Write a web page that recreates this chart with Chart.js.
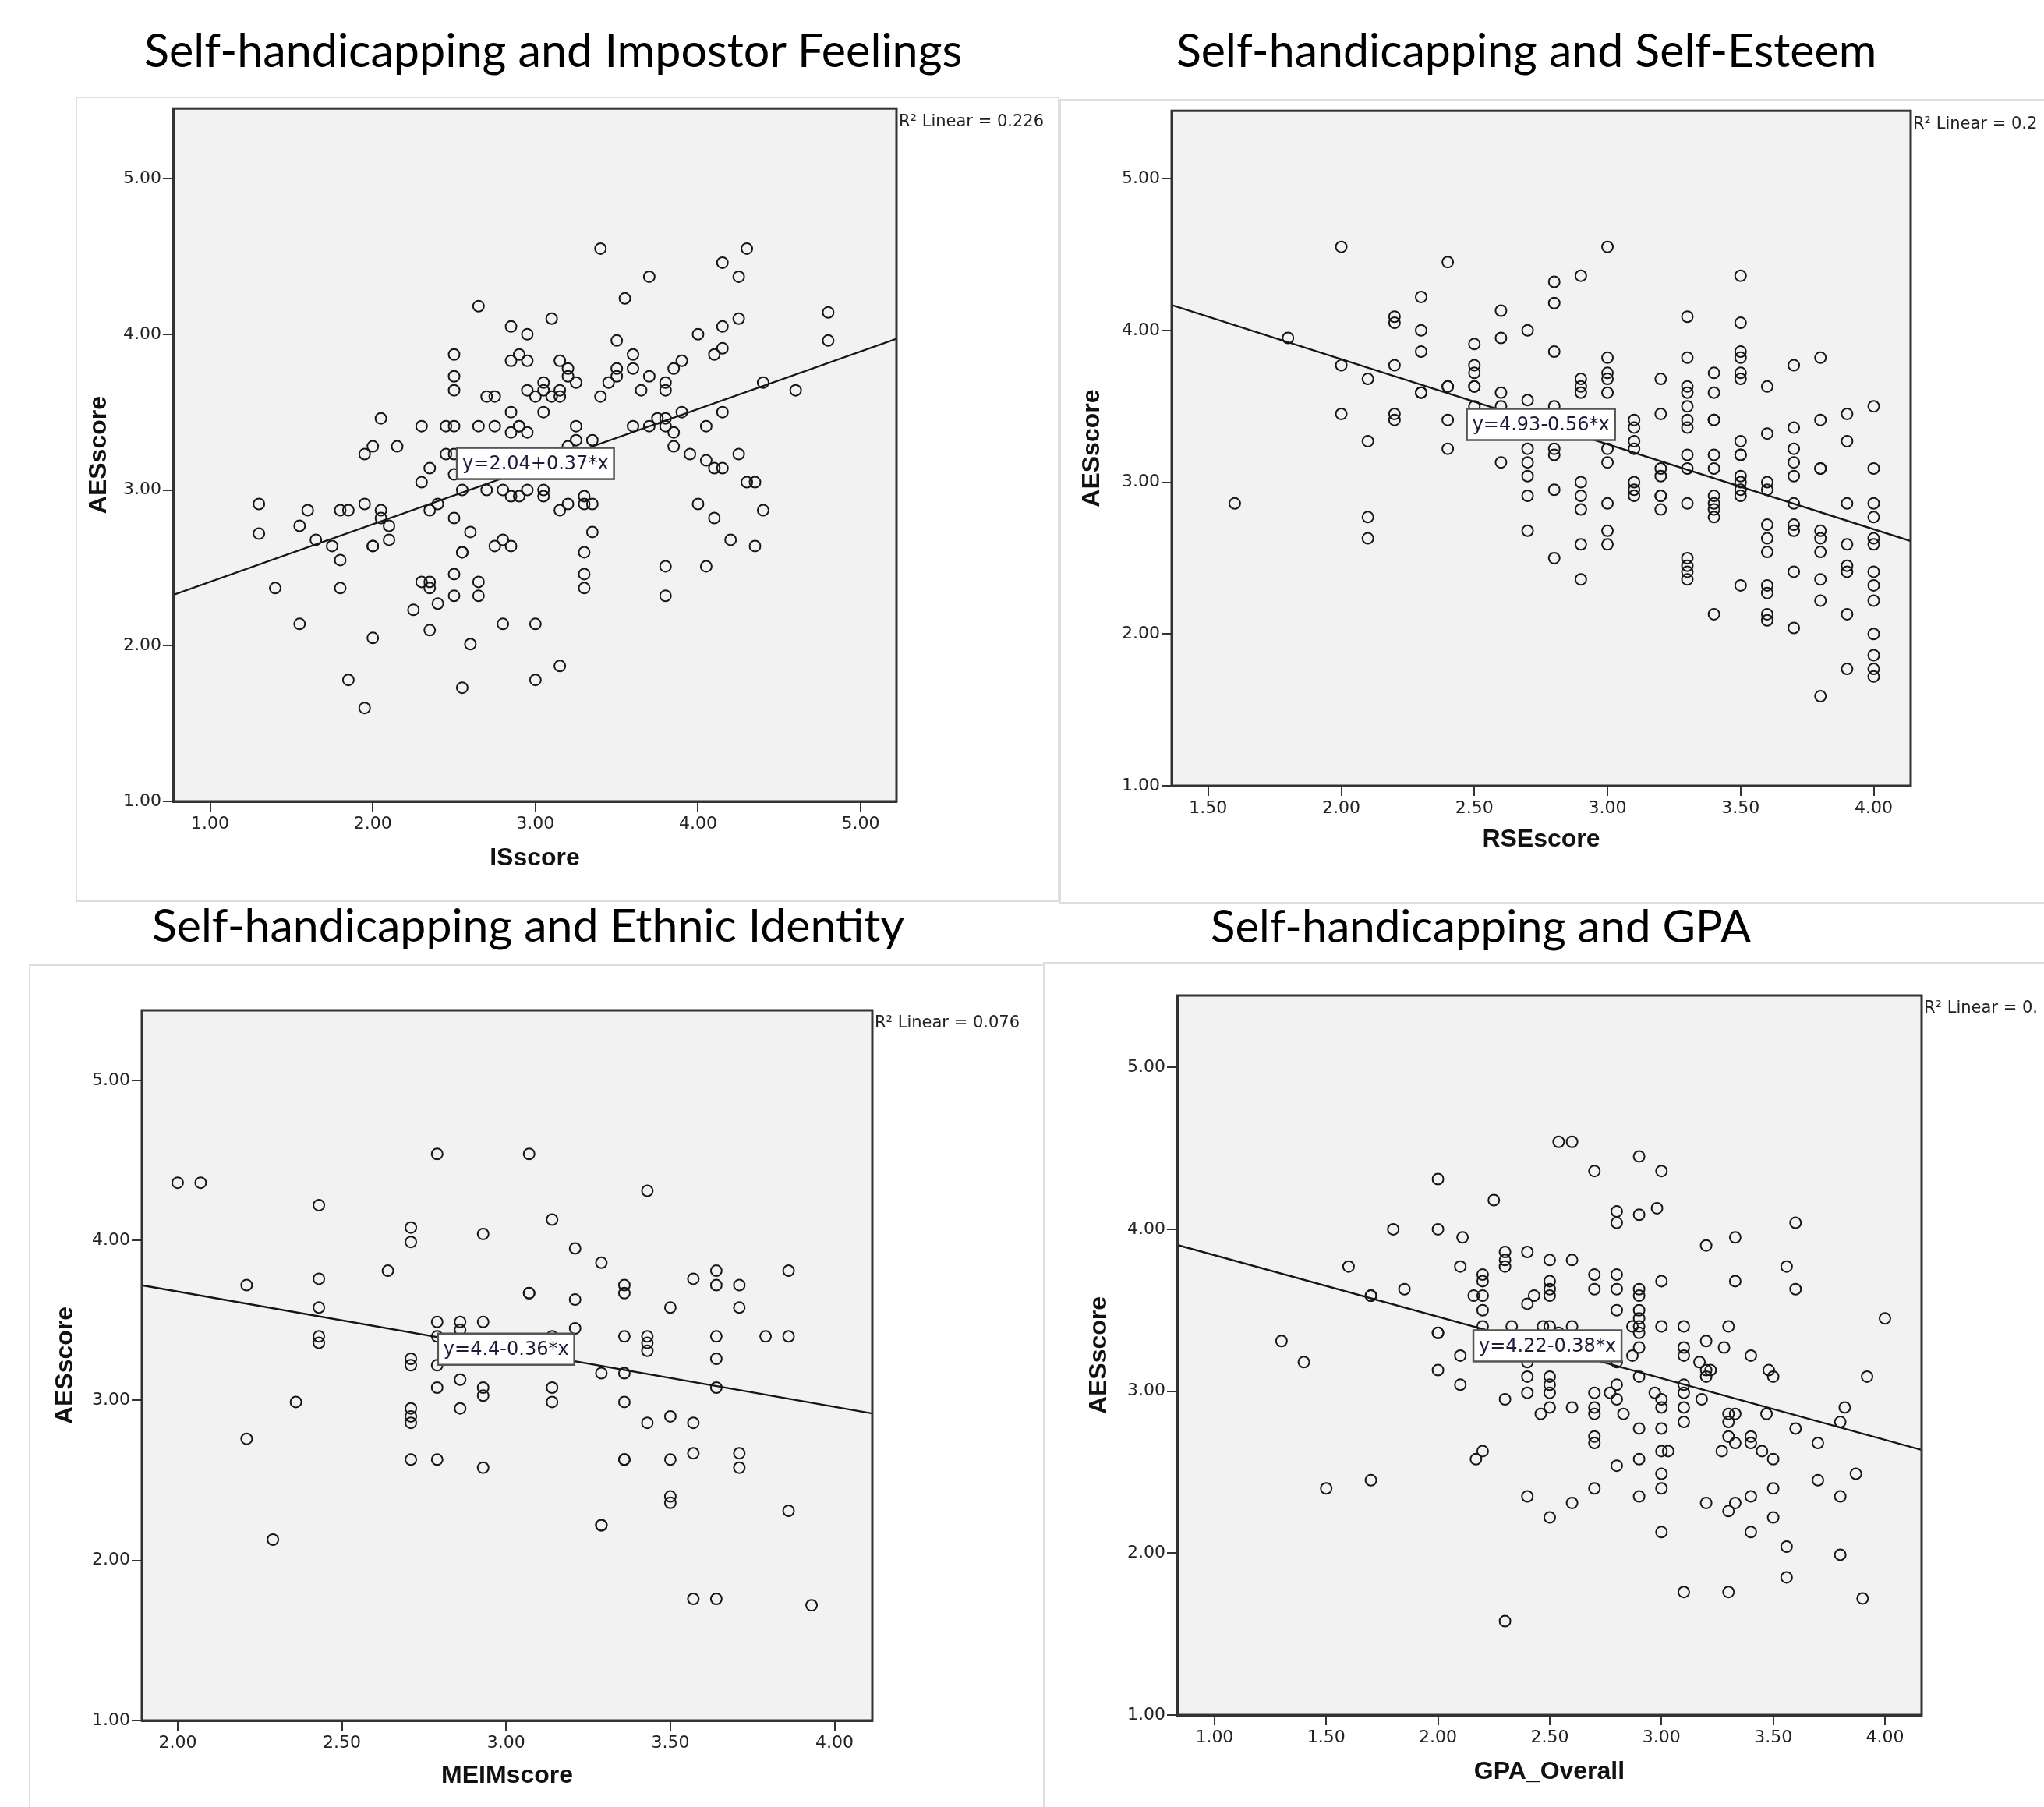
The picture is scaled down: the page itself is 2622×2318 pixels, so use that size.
<!DOCTYPE html>
<html><head><meta charset="utf-8">
<script src="https://cdn.jsdelivr.net/npm/chart.js@4.4.1/dist/chart.umd.min.js"></script>
<style>
html,body{margin:0;padding:0;background:#fff;}
body{width:2622px;height:2318px;overflow:hidden;position:relative;}
.frame{position:absolute;border:2px solid #dedede;background:#fff;box-sizing:border-box;}
canvas{position:absolute;}
.title{position:absolute;white-space:nowrap;font-family:Lato,'Open Sans',sans-serif;color:#000;line-height:1;}
</style></head><body>
<div class="frame" style="left:97px;top:124px;width:1262px;height:1033px"></div>
<div class="frame" style="left:1359px;top:127px;width:1300px;height:1032px"></div>
<div class="frame" style="left:37px;top:1237px;width:1314px;height:1120px"></div>
<div class="frame" style="left:1338px;top:1234px;width:1300px;height:1120px"></div>

<div class="title" id="t1">Self-handicapping and Impostor Feelings</div>
<div class="title" id="t2">Self-handicapping and Self-Esteem</div>
<div class="title" id="t3">Self-handicapping and Ethnic Identity</div>
<div class="title" id="t4">Self-handicapping and GPA</div>

<canvas id="c1" width="1262" height="1033" style="left:97px;top:124px"></canvas>
<canvas id="c2" width="1263" height="1032" style="left:1359px;top:127px"></canvas>
<canvas id="c3" width="1314" height="1081" style="left:37px;top:1237px"></canvas>
<canvas id="c4" width="1284" height="1084" style="left:1338px;top:1234px"></canvas>

<script>
// ---------- DATA ----------
const yTicks = [1, 2, 3, 4, 5];

// Panel 1: ISscore vs AESscore
const isScore = [
1.30,1.30,1.40,1.55,1.60,1.55,1.65,1.75,1.80,1.85,
1.80,1.80,1.85,1.95,1.95,1.95,2.00,2.00,2.00,2.00,
2.05,2.05,2.05,2.10,2.10,2.15,2.25,2.30,2.30,2.30,
2.35,2.35,2.35,2.35,2.35,2.40,2.40,2.45,2.50,2.45,
2.50,2.50,2.50,2.50,2.50,2.50,2.50,2.50,2.55,2.55,
2.55,2.55,2.60,2.60,2.65,2.65,2.65,2.65,2.70,2.75,
2.70,2.75,2.75,2.80,2.80,2.80,2.85,2.85,2.85,2.85,
2.85,2.85,2.90,2.90,2.90,2.90,2.95,2.95,2.95,2.95,
2.95,3.00,3.00,3.00,3.05,3.05,3.05,3.05,3.05,3.10,
3.10,3.10,3.15,3.15,3.15,3.15,3.15,3.20,3.20,3.20,
3.20,3.25,3.25,3.25,3.30,3.30,3.30,3.30,3.30,3.35,
3.35,3.35,3.40,3.40,3.45,3.50,3.50,3.50,3.55,3.60,
3.60,3.60,3.65,3.70,3.70,3.70,3.75,3.80,3.80,3.80,
3.80,3.80,3.80,3.85,3.85,3.85,3.90,3.90,3.95,4.00,
4.00,4.05,4.05,4.05,4.10,4.10,4.10,4.15,4.15,4.15,
4.15,4.15,4.20,4.25,4.25,4.25,4.30,4.30,4.35,4.35,
4.40,4.40,4.60,4.80,4.80];
const aesIS = [
2.91,2.72,2.37,2.77,2.87,2.14,2.68,2.64,2.87,2.87,
2.55,2.37,1.78,1.60,2.91,3.23,3.28,2.64,2.64,2.05,
3.46,2.87,2.82,2.77,2.68,3.28,2.23,3.41,3.05,2.41,
2.41,2.37,3.14,2.87,2.10,2.91,2.27,3.41,3.41,3.23,
3.23,3.87,3.73,3.64,3.10,2.82,2.46,2.32,3.00,2.60,
2.60,1.73,2.73,2.01,4.18,3.41,2.41,2.32,3.60,3.60,
3.00,3.41,2.64,3.00,2.68,2.14,4.05,3.83,3.50,3.37,
2.96,2.64,3.87,3.41,3.41,2.96,4.00,3.83,3.64,3.37,
3.00,3.60,2.14,1.78,3.69,3.64,3.50,3.00,2.96,4.10,
3.60,3.23,3.83,3.64,3.60,2.87,1.87,3.78,3.73,3.28,
2.91,3.69,3.41,3.32,2.96,2.91,2.60,2.46,2.37,3.32,
2.91,2.73,4.55,3.60,3.69,3.96,3.78,3.73,4.23,3.87,
3.78,3.41,3.64,4.37,3.73,3.41,3.46,3.69,3.64,3.46,
3.41,2.51,2.32,3.78,3.37,3.28,3.83,3.50,3.23,4.00,
2.91,3.41,3.19,2.51,3.87,3.14,2.82,4.46,4.05,3.91,
3.50,3.14,2.68,4.37,4.10,3.23,4.55,3.05,3.05,2.64,
3.69,2.87,3.64,4.14,3.96];
const isTicks = [1, 2, 3, 4, 5];

// Panel 2: RSEscore vs AESscore
const rseScore = [
1.6,1.8,2.0,2.0,2.0,2.1,2.1,2.1,2.1,
2.2,2.2,2.2,2.2,2.2,2.3,2.3,2.3,2.3,2.3,
2.4,2.4,2.4,2.4,2.4,2.5,2.5,2.5,2.5,2.5,2.5,
2.6,2.6,2.6,2.6,2.6,2.7,2.7,2.7,2.7,2.7,2.7,2.7,
2.8,2.8,2.8,2.8,2.8,2.8,2.8,2.8,
2.9,2.9,2.9,2.9,2.9,2.9,2.9,2.9,2.9,
3.0,3.0,3.0,3.0,3.0,3.0,3.0,3.0,3.0,3.0,
3.1,3.1,3.1,3.1,3.1,3.1,3.1,
3.2,3.2,3.2,3.2,3.2,3.2,3.2,
3.3,3.3,3.3,3.3,3.3,3.3,3.3,3.3,3.3,3.3,3.3,3.3,3.3,3.3,
3.4,3.4,3.4,3.4,3.4,3.4,3.4,3.4,3.4,3.4,3.4,
3.5,3.5,3.5,3.5,3.5,3.5,3.5,3.5,3.5,3.5,3.5,3.5,3.5,3.5,
3.6,3.6,3.6,3.6,3.6,3.6,3.6,3.6,3.6,3.6,3.6,
3.7,3.7,3.7,3.7,3.7,3.7,3.7,3.7,3.7,3.7,
3.8,3.8,3.8,3.8,3.8,3.8,3.8,3.8,3.8,3.8,
3.9,3.9,3.9,3.9,3.9,3.9,3.9,3.9,
4.0,4.0,4.0,4.0,4.0,4.0,4.0,4.0,4.0,4.0,4.0,4.0,4.0];
const aesRSE = [
2.86,3.95,4.55,3.77,3.45,3.68,3.27,2.77,2.63,
4.09,4.05,3.77,3.45,3.41,4.22,4.00,3.86,3.59,3.59,
4.45,3.63,3.63,3.41,3.22,3.91,3.77,3.72,3.63,3.63,3.50,
4.13,3.95,3.59,3.50,3.13,4.00,3.54,3.22,3.13,3.04,2.91,2.68,
4.32,4.18,3.86,3.50,3.22,3.18,2.95,2.50,
4.36,3.68,3.63,3.59,3.00,2.91,2.82,2.59,2.36,
4.55,3.82,3.72,3.68,3.59,3.22,3.13,2.86,2.68,2.59,
3.41,3.36,3.27,3.22,3.00,2.95,2.91,
3.68,3.45,3.09,3.04,2.91,2.91,2.82,
4.09,3.82,3.63,3.59,3.50,3.41,3.36,3.18,3.09,2.86,2.50,2.45,2.41,2.36,
3.72,3.59,3.41,3.41,3.18,3.09,2.91,2.86,2.82,2.77,2.13,
4.36,4.05,3.86,3.82,3.72,3.68,3.27,3.18,3.18,3.04,3.00,2.95,2.91,2.32,
3.63,3.32,3.00,2.95,2.72,2.63,2.54,2.32,2.27,2.13,2.09,
3.77,3.36,3.22,3.13,3.04,2.86,2.72,2.68,2.41,2.04,
3.82,3.41,3.09,3.09,2.68,2.63,2.54,2.36,2.22,1.59,
3.45,3.27,2.86,2.59,2.45,2.41,2.13,1.77,
3.50,3.09,2.86,2.77,2.63,2.59,2.41,2.32,2.22,2.00,1.86,1.77,1.72];
const rseTicks = [1.5, 2.0, 2.5, 3.0, 3.5, 4.0];

// Panel 3: MEIMscore vs AESscore
const meimScore = [
2.00,2.07,2.21,2.21,2.29,2.36,2.43,2.43,2.43,2.43,
2.43,2.64,2.71,2.71,2.71,2.71,2.71,2.71,2.71,2.71,
2.79,2.79,2.79,2.79,2.79,2.79,2.86,2.86,2.86,2.86,
2.93,2.93,2.93,2.93,2.93,3.07,3.07,3.07,3.14,3.14,
3.14,3.14,3.21,3.21,3.21,3.29,3.29,3.29,3.29,3.36,
3.36,3.36,3.36,3.36,3.36,3.36,3.43,3.43,3.43,3.43,
3.43,3.50,3.50,3.50,3.50,3.50,3.57,3.57,3.57,3.57,
3.64,3.64,3.64,3.64,3.64,3.64,3.71,3.71,3.71,3.71,
3.79,3.86,3.86,3.86,3.93];
const aesMEIM = [
4.36,4.36,3.72,2.76,2.13,2.99,4.22,3.76,3.58,3.40,
3.36,3.81,4.08,3.99,3.26,3.22,2.95,2.90,2.86,2.63,
4.54,3.49,3.40,3.22,3.08,2.63,3.49,3.44,3.13,2.95,
4.04,3.49,3.08,3.03,2.58,4.54,3.67,3.67,4.13,3.40,
3.08,2.99,3.95,3.63,3.45,3.86,3.17,2.22,2.22,3.72,
3.67,3.40,3.17,2.99,2.63,2.63,4.31,3.40,3.36,3.31,
2.86,3.58,2.90,2.63,2.40,2.36,3.76,2.86,2.67,1.76,
3.81,3.72,3.40,3.26,3.08,1.76,3.72,3.58,2.67,2.58,
3.40,3.81,3.40,2.31,1.72];
const meimTicks = [2.0, 2.5, 3.0, 3.5, 4.0];

// Panel 4: GPA_Overall vs AESscore
const gpaOverall = [
1.30,1.40,1.50,1.60,1.70,1.70,1.70,1.80,1.85,2.00,
2.00,2.00,2.00,2.00,2.10,2.11,2.10,2.10,2.16,2.17,
2.20,2.20,2.20,2.20,2.20,2.20,2.25,2.30,2.30,2.30,
2.30,2.30,2.33,2.40,2.40,2.40,2.40,2.40,2.40,2.43,
2.46,2.47,2.50,2.50,2.50,2.50,2.50,2.50,2.50,2.50,
2.50,2.50,2.54,2.54,2.60,2.60,2.60,2.60,2.60,2.70,
2.70,2.70,2.70,2.70,2.70,2.70,2.70,2.70,2.77,2.80,
2.80,2.80,2.80,2.80,2.80,2.80,2.80,2.80,2.83,2.87,
2.87,2.90,2.90,2.90,2.90,2.90,2.90,2.90,2.90,2.90,
2.90,2.90,2.90,2.90,2.97,2.98,3.00,3.00,3.00,3.00,
3.00,3.00,3.00,3.00,3.00,3.00,3.03,3.10,3.10,3.10,
3.10,3.10,3.10,3.10,3.10,3.17,3.18,3.20,3.20,3.20,
3.20,3.20,3.22,3.27,3.28,3.30,3.30,3.30,3.30,3.30,
3.30,3.33,3.33,3.33,3.33,3.33,3.40,3.40,3.40,3.40,
3.40,3.45,3.47,3.48,3.50,3.50,3.50,3.50,3.56,3.56,
3.56,3.60,3.60,3.60,3.70,3.70,3.80,3.80,3.80,3.82,
3.87,3.90,3.92,4.00];
const aesGPA = [
3.31,3.18,2.40,3.77,3.59,3.59,2.45,4.00,3.63,4.00,
4.31,3.36,3.36,3.13,3.77,3.95,3.22,3.04,3.59,2.58,
2.63,3.72,3.68,3.59,3.50,3.40,4.18,3.86,3.81,3.77,
2.95,1.58,3.40,3.86,3.54,3.18,3.09,2.99,2.35,3.59,
2.86,3.40,3.81,3.68,3.63,3.59,3.40,3.09,3.04,2.99,
2.90,2.22,4.54,3.36,4.54,3.81,3.40,2.90,2.31,4.36,
3.72,3.63,2.99,2.90,2.86,2.72,2.68,2.40,2.99,4.11,
4.04,3.72,3.63,3.50,3.18,3.04,2.95,2.54,2.86,3.22,
3.40,4.45,4.09,3.63,3.59,3.50,3.45,3.40,3.36,3.27,
3.09,2.77,2.58,2.35,2.99,4.13,4.36,3.68,3.40,2.95,
2.90,2.77,2.63,2.49,2.40,2.13,2.63,3.40,3.27,3.22,
3.04,2.99,2.90,2.81,1.76,3.18,2.95,3.90,3.31,3.13,
3.09,2.31,3.13,2.63,3.27,3.40,2.86,2.81,2.72,2.26,
1.76,3.95,3.68,2.86,2.68,2.31,3.22,2.72,2.68,2.35,
2.13,2.63,2.86,3.13,3.09,2.58,2.40,2.22,3.77,2.04,
1.85,4.04,3.63,2.77,2.68,2.45,2.81,2.35,1.99,2.90,
2.49,1.72,3.09,3.45];
const gpaTicks = [1.0, 1.5, 2.0, 2.5, 3.0, 3.5, 4.0];

// Fit lines (intercept, slope) as printed on the chart, and R² labels
const fitIntercepts = [2.04, 4.93, 4.4, 4.22];
const fitSlopes = [0.37, -0.56, -0.36, -0.38];
const fitLabels = ['y=2.04+0.37*x', 'y=4.93-0.56*x', 'y=4.4-0.36*x', 'y=4.22-0.38*x'];
const r2Labels = ['R\u00B2 Linear = 0.226', 'R\u00B2 Linear = 0.2', 'R\u00B2 Linear = 0.076', 'R\u00B2 Linear = 0.'];
const xTitles = ['ISscore', 'RSEscore', 'MEIMscore', 'GPA_Overall'];
const yTitle = 'AESscore';

// ---------- LAYOUT (positions / styles) ----------
const panels = [
  {id:'c1', xs:isScore, ys:aesIS, xTicks:isTicks, xMin:0.772, xMax:5.22, yMax:5.45,
   yAxisW:125, padTop:13, padRight:209, xAxisH:129, yTitlePad:11.4, xTitlePad:36.4, eqX:3.0, eqY:3.17},
  {id:'c2', xs:rseScore, ys:aesRSE, xTicks:rseTicks, xMin:1.363, xMax:4.139, yMax:5.446,
   yAxisW:144, padTop:8, padRight:171, xAxisH:151, yTitlePad:23.4, xTitlePad:62.4, eqX:2.75, eqY:3.38},
  {id:'c3', xs:meimScore, ys:aesMEIM, xTicks:meimTicks, xMin:1.891, xMax:4.115, yMax:5.4375,
   yAxisW:145, padTop:59, padRight:232, xAxisH:111, yTitlePad:28.4, xTitlePad:20.4, eqX:3.0, eqY:3.32},
  {id:'c4', xs:gpaOverall, ys:aesGPA, xTicks:gpaTicks, xMin:0.833, xMax:4.164, yMax:5.444,
   yAxisW:172, padTop:43, padRight:157, xAxisH:118, yTitlePad:53.4, xTitlePad:25.4, eqX:2.49, eqY:3.28}
];

const tickFont = {family:"'DejaVu Sans', sans-serif", size:22};
const axisTitleFont = {family:"'Liberation Sans', Arial, sans-serif", size:32, weight:'bold'};

const panelPlugin = {
  id:'spssPanel',
  beforeDraw(chart) {
    const {ctx, chartArea:a} = chart;
    ctx.save();
    ctx.fillStyle = '#f2f2f2';
    ctx.fillRect(a.left, a.top, a.right - a.left, a.bottom - a.top);
    ctx.restore();
  },
  afterDraw(chart) {
    const {ctx, chartArea:a} = chart;
    const o = chart.options.plugins.spssPanel;
    ctx.save();
    ctx.strokeStyle = '#333';
    ctx.lineWidth = 3;
    ctx.strokeRect(a.left, a.top, a.right - a.left, a.bottom - a.top);
    // equation label
    const cx = chart.scales.x.getPixelForValue(o.eqX);
    const cy = chart.scales.y.getPixelForValue(o.eqY);
    ctx.font = "24px 'DejaVu Sans', sans-serif";
    const w = ctx.measureText(o.eqText).width + 14, h = 40;
    ctx.fillStyle = '#fff';
    ctx.fillRect(cx - w/2, cy - h/2, w, h);
    ctx.strokeStyle = '#555';
    ctx.lineWidth = 2.5;
    ctx.strokeRect(cx - w/2, cy - h/2, w, h);
    ctx.fillStyle = '#1c1c3c';
    ctx.textAlign = 'center';
    ctx.textBaseline = 'middle';
    ctx.fillText(o.eqText, cx, cy + 1);
    // R² label
    ctx.font = "21px 'DejaVu Sans', sans-serif";
    ctx.textAlign = 'left';
    ctx.fillStyle = '#222';
    ctx.fillText(o.r2Text, a.right + 3, a.top + 17);
    ctx.restore();
  }
};

panels.forEach((p, i) => {
  const pts = p.xs.map((x, k) => ({x, y:p.ys[k]}));
  const a = fitIntercepts[i], b = fitSlopes[i];
  const line = [{x:p.xMin, y:a + b*p.xMin}, {x:p.xMax, y:a + b*p.xMax}];
  new Chart(document.getElementById(p.id), {
    type:'scatter',
    data:{datasets:[
      {type:'scatter', data:pts, pointStyle:'circle', pointRadius:7, pointHoverRadius:7,
       pointBorderWidth:2, borderColor:'#161616', backgroundColor:'rgba(0,0,0,0)'},
      {type:'line', data:line, borderColor:'#151515', borderWidth:2.3, pointRadius:0, fill:false, tension:0}
    ]},
    options:{
      responsive:false, animation:false, devicePixelRatio:1, events:[],
      layout:{padding:{left:0, top:p.padTop, right:p.padRight, bottom:0}},
      plugins:{
        legend:{display:false}, tooltip:{enabled:false},
        spssPanel:{eqX:p.eqX, eqY:p.eqY, eqText:fitLabels[i], r2Text:r2Labels[i]}
      },
      scales:{
        x:{type:'linear', position:'bottom', min:p.xMin, max:p.xMax,
          afterBuildTicks:s => { s.ticks = p.xTicks.map(v => ({value:v})); },
          afterFit:s => { s.height = p.xAxisH; },
          ticks:{callback:v => Number(v).toFixed(2), font:tickFont, color:'#222', padding:3, maxRotation:0, autoSkip:false},
          grid:{drawOnChartArea:false, drawTicks:true, tickLength:13, color:'#333', lineWidth:2},
          border:{display:true, color:'#333', width:3},
          title:{display:true, text:xTitles[i], font:axisTitleFont, color:'#111', padding:{top:0, bottom:p.xTitlePad}}
        },
        y:{type:'linear', position:'left', min:1, max:p.yMax,
          afterBuildTicks:s => { s.ticks = yTicks.map(v => ({value:v})); },
          afterFit:s => { s.width = p.yAxisW; },
          ticks:{callback:v => Number(v).toFixed(2), font:tickFont, color:'#222', padding:2, autoSkip:false},
          grid:{drawOnChartArea:false, drawTicks:true, tickLength:13, color:'#333', lineWidth:2},
          border:{display:true, color:'#333', width:3},
          title:{display:true, text:yTitle, font:axisTitleFont, color:'#111', padding:{top:p.yTitlePad, bottom:0}}
        }
      }
    },
    plugins:[panelPlugin]
  });
});

// ---------- TITLES ----------
const titleSpecs = [
  {id:'t1', left:184, width:1047, baseline:86},
  {id:'t2', left:1508, width:893, baseline:86},
  {id:'t3', left:194, width:963, baseline:1208},
  {id:'t4', left:1552, width:692, baseline:1210}
];
const mctx = document.createElement('canvas').getContext('2d');
titleSpecs.forEach(t => {
  const el = document.getElementById(t.id);
  mctx.font = "100px Lato, 'Open Sans', sans-serif";
  const m = mctx.measureText(el.textContent);
  const ink = m.actualBoundingBoxLeft + m.actualBoundingBoxRight;
  const fs = 100 * t.width / ink;
  mctx.font = fs + "px Lato, 'Open Sans', sans-serif";
  const m2 = mctx.measureText(el.textContent);
  const asc = m2.fontBoundingBoxAscent, desc = m2.fontBoundingBoxDescent;
  el.style.fontSize = fs + 'px';
  el.style.left = (t.left - m2.actualBoundingBoxLeft) + 'px';
  el.style.top = (t.baseline - ((fs - (asc + desc)) / 2 + asc)) + 'px';
});
</script>
</body></html>
